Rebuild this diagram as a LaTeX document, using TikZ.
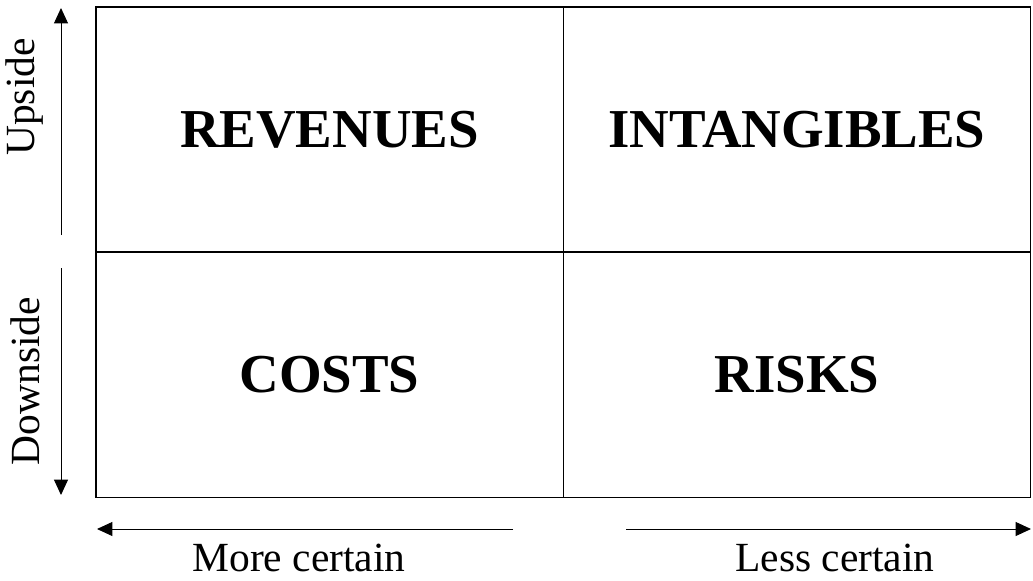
\documentclass[tikz,border=0pt]{standalone}
\usepackage{fontspec}
\setmainfont{Liberation Serif}
\usetikzlibrary{arrows.meta, positioning}

\begin{document}
\begin{tikzpicture}[x=0.025cm, y=-0.025cm,
    cell/.style={draw, line width=0.8pt, minimum width=11.675cm, minimum height=6.125cm,
      inner sep=0pt, font=\fontsize{39}{44}\selectfont\bfseries},
    axis/.style={-{Triangle[length=11pt, width=10pt]}, line width=0.7pt},
    axislabel/.style={font=\fontsize{29.5}{34}\selectfont, inner sep=0pt}]
    \useasboundingbox (0,0) rectangle (1033,580);

    % quadrants
    \node[cell] (rev)  at (329.5,129.5) {REVENUES};
    \node[cell] (intg) at (797,129.5)   {INTANGIBLES};
    \node[cell] (cost) at (329.5,375)   {COSTS};
    \node[cell] (risk) at (797,375)     {RISKS};

    % axis ends
    \coordinate (up0) at (61,235);
    \coordinate (up1) at (61,8);
    \coordinate (dn0) at (61,268);
    \coordinate (dn1) at (61,495);
    \coordinate (lf0) at (513,529);
    \coordinate (lf1) at (97,529);
    \coordinate (rt0) at (626,529);
    \coordinate (rt1) at (1031,529);

    % axes
    \draw[axis] (up0) -- (up1);
    \draw[axis] (dn0) -- (dn1);
    \draw[axis] (lf0) -- (lf1);
    \draw[axis] (rt0) -- (rt1);

    % axis labels
    \node[axislabel, rotate=90] (upside)   at (25,97)  {Upside};
    \node[axislabel, rotate=90] (downside) at (25,381) {Downside};
    \node[axislabel] (morecert) at (299,558) {More certain};
    \node[axislabel] (lesscert) at (835,558) {Less certain};
\end{tikzpicture}
\end{document}
